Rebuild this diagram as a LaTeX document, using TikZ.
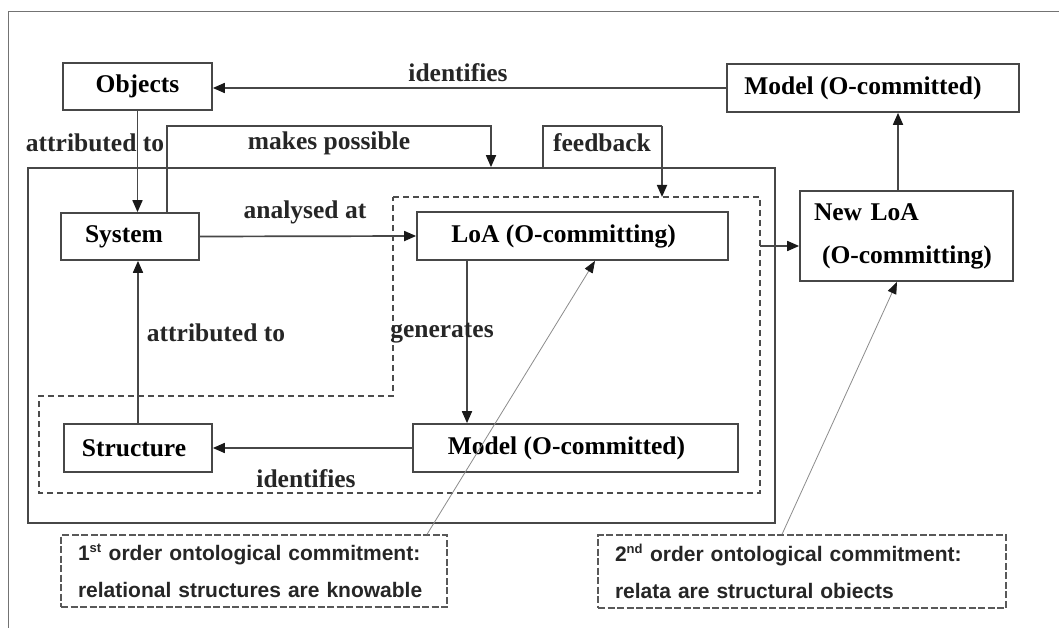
\documentclass[tikz,border=0pt]{standalone}
\usepackage{fontspec}
\setmainfont{Liberation Serif}
\newfontfamily\calloutfont{Liberation Sans}
\usetikzlibrary{arrows.meta}
\begin{document}
\begin{tikzpicture}[x=1pt,y=-1pt,
  ink/.style={draw=black!72, line width=1.7pt},
  box/.style={ink, fill=white, inner sep=0pt, font=\fontsize{25.5}{30}\selectfont\bfseries},
  arr/.style={ink, -{Triangle[length=12pt,width=10pt,color=black!90]}},
  lbl/.style={font=\fontsize{25.5}{30}\selectfont\bfseries, text=black!85, inner sep=0pt},
  callout/.style={draw=black!65, line width=1.3pt, dash pattern=on 7pt off 2.5pt, inner sep=0pt,
    align=left, font=\calloutfont\fontsize{21}{37}\selectfont\bfseries, text=black!85},
  pointer/.style={draw=black!45, line width=0.8pt, -{Triangle[length=12pt,width=9pt,color=black!90]}},
  zone/.style={draw=black!70, line width=1.4pt, dash pattern=on 6pt off 4pt}
]
\useasboundingbox (0,0) rectangle (1059,628);
\fill[white] (0,0) rectangle (1059,628);

% page frame
\draw[black!55, line width=1pt] (8,628) -- (8,12) -- (1059,12);

% enclosing frame of the inner cycle
\node[ink, inner sep=0pt, minimum width=747pt, minimum height=355pt] (outer) at (401.5,345.5) {};

% dashed region around LoA and model
\draw[zone] (393,197) -- (760,197) -- (760,493) -- (39,493) -- (39,396) -- (393,396) -- cycle;
\coordinate (zonetop) at (662,197);
\coordinate (zoneout) at (760,246);

% boxes
\node[box, minimum width=149pt, minimum height=47pt] (objects) at (137.5,86.5) {Objects};
\node[box, minimum width=292pt, minimum height=48pt] (modeltop) at (873,88) {\hspace*{-20pt}Model (O-committed)};
\node[box, minimum width=138pt, minimum height=47pt] (system) at (130,236.5) {\hspace*{-12pt}System};
\node[box, minimum width=311pt, minimum height=48pt] (loa) at (572.5,236) {\hspace*{-18pt}LoA (O-committing)};
\node[box, minimum width=213pt, minimum height=90pt, align=left, text width=185pt,
      font=\fontsize{25.5}{43}\selectfont\bfseries] (newloa) at (906.5,236)
      {New LoA\\\hspace*{8pt}(O-committing)};
\node[box, minimum width=325pt, minimum height=48pt] (modelmid) at (575.5,448) {\hspace*{-18pt}Model (O-committed)};
\node[box, minimum width=148pt, minimum height=48pt] (structure) at (138,448) {\hspace*{-8pt}Structure};

% callouts
\node[callout, minimum width=386pt, minimum height=72pt, text width=352pt] (callout1) at (254,571)
  {1\textsuperscript{\fontsize{13}{13}\selectfont st} order ontological commitment:\\relational structures are knowable};
\node[callout, minimum width=408pt, minimum height=73pt, text width=374pt] (callout2) at (802,571.5)
  {2\textsuperscript{\fontsize{13}{13}\selectfont nd} order ontological commitment:\\relata are structural obiects};

% helper coordinates
\coordinate (mpcorner) at (491,126);
\coordinate (fbleft) at (543,126);
\coordinate (fbcorner) at (662,126);
\coordinate (genx) at (467,0);
\coordinate (upx) at (898,0);

% connectors
\draw[arr] (modeltop.west) -- (modeltop.west -| objects.east);
\draw[arr] (objects.south) -- (objects.south |- system.north);
\draw[arr] ([xshift=37pt]system.north) |- (mpcorner) -- (mpcorner |- outer.north);
\draw[ink] (fbleft |- outer.north) -- (fbleft) -- (fbcorner);
\draw[arr] (fbcorner) -- (zonetop);
\draw[arr] (system.east) -- (loa.west);
\draw[arr] (loa.south -| genx) -- (modelmid.north -| genx);
\draw[arr] (modelmid.west) -- (structure.east);
\draw[arr] (structure.north) -- (structure.north |- system.south);
\draw[arr] (zoneout) -- (zoneout -| newloa.west);
\draw[arr] (newloa.north -| upx) -- (modeltop.south -| upx);
\draw[pointer] ([xshift=173pt]callout1.north) -- ([xshift=22.5pt]loa.south);
\draw[pointer] ([xshift=-20pt]callout2.north) -- ([xshift=-9.5pt]newloa.south);

% connector labels
\node[lbl] (l1) at (458,73) {identifies};
\node[lbl] (l2) at (95,143) {attributed to};
\node[lbl] (l3) at (329,143) {makes possible};
\node[lbl] (l4) at (602,143) {feedback};
\node[lbl] (l5) at (305,212) {analysed at};
\node[lbl] (l6) at (216,333) {attributed to};
\node[lbl] (l7) at (442,333) {generates};
\node[lbl] (l8) at (306,479) {identifies};
\end{tikzpicture}
\end{document}
